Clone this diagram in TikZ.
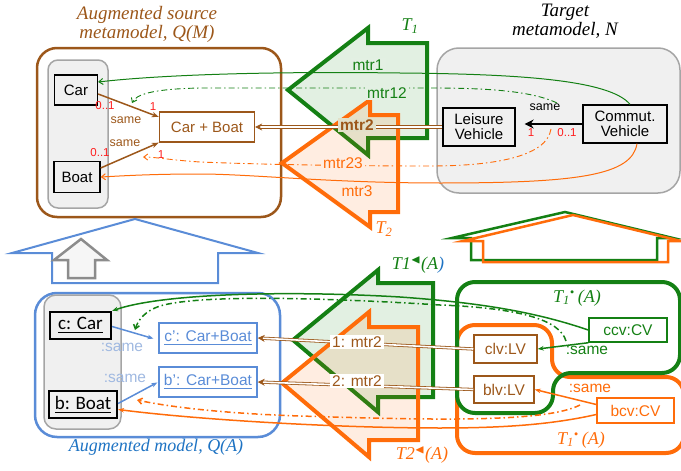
\documentclass[tikz,border=0pt]{standalone}
\usepackage{amssymb}
\usepackage{fontspec}
\setmainfont{Liberation Serif}
\setsansfont{Liberation Sans}
\newfontfamily\calib{Carlito}
\usetikzlibrary{arrows.meta}
\definecolor{mbrown}{RGB}{156,87,26}
\definecolor{mgreen}{RGB}{20,128,20}
\definecolor{morange}{RGB}{255,108,10}
\definecolor{mblue}{RGB}{90,140,215}
\definecolor{tblue}{RGB}{30,115,195}
\definecolor{lblue}{RGB}{160,185,225}
\definecolor{mred}{RGB}{255,30,30}
\definecolor{mgrey}{RGB}{165,165,165}
\definecolor{lgrey}{RGB}{240,240,240}
\definecolor{mtan}{RGB}{226,224,201}
\begin{document}
\begin{tikzpicture}[x=1pt, y=-1pt,
    cls/.style = {draw, line width=1.3, font=\sffamily\fontsize{15}{17}\selectfont, inner sep=1, align=center},
    obj/.style = {draw, line width=1.5, font=\sffamily\fontsize{15.5}{17}\selectfont, inner sep=1},
    ttl/.style = {font=\itshape\fontsize{19}{19}\selectfont, align=center},
    tlbl/.style = {font=\itshape\fontsize{18}{20}\selectfont},
    mult/.style = {text=mred, font=\sffamily\fontsize{11.5}{12}\selectfont, inner sep=0},
    lbl/.style = {font=\sffamily\fontsize{15.5}{17}\selectfont, inner sep=2},
    small/.style = {font=\sffamily\fontsize{12.5}{14}\selectfont, inner sep=0},
    big/.style = {line width=4, line join=miter, fill opacity=0.12},
    dd/.style = {dash pattern=on 6pt off 3pt on 1.5pt off 3pt},
    thin/.style = {-{Straight Barb[length=4pt,width=6pt]}},
    dbl/.style = {draw=mbrown, double=white, double distance=1.6, line width=0.8, -{Stealth[length=7pt,width=7pt]}}]
    \useasboundingbox (0,0) rectangle (681,471);

    % source and target metamodels
    \draw[mbrown, line width=2.5, rounded corners=20] (37,48) rectangle (281,217);
    \draw[mgrey, fill=lgrey, line width=1.5, rounded corners=10] (48,60) rectangle (108,208);
    \draw[mgrey, fill=lgrey, line width=1.5, rounded corners=22] (437,48) rectangle (680,193);
    \node[ttl, text=mbrown] (srcttl) at (147,24) {Augmented source\\metamodel, Q(M)};
    \node[ttl] (tgtttl) at (565,21) {Target\\metamodel, N};

    \draw[big, draw=mgreen, fill=mgreen] (288,90) -- (368,28) -- (368,43) -- (427,43) -- (427,138) -- (368,138) -- (368,155) -- cycle;
    \draw[big, draw=morange, fill=morange] (282,163) -- (370,100) -- (370,115) -- (398,115) -- (398,212) -- (370,212) -- (370,227) -- cycle;
    \node[tlbl, text=mgreen] (t1) at (410,26) {T\textsubscript{1}};
    \node[tlbl, text=morange] (t2) at (384,229) {T\textsubscript{2}};

    \node[cls, minimum width=43, minimum height=30] (car) at (76,90) {Car};
    \node[cls, minimum width=46, minimum height=31] (boat) at (77,177) {Boat};
    \node[cls, draw=mbrown, text=mbrown, minimum width=95, minimum height=30] (cb) at (207,127) {Car + Boat};
    \node[cls, minimum width=72, minimum height=38] (lv) at (479,127) {Leisure\\[-2pt]Vehicle};
    \node[cls, minimum width=84, minimum height=38] (cv) at (625,124) {Commut.\\[-2pt]Vehicle};

    \draw[mbrown, line width=1.5, -{Stealth[length=7pt]}] ([yshift=-4]car.east) -- ([yshift=10]cb.west);
    \draw[mbrown, line width=1.5, -{Stealth[length=7pt]}] ([yshift=9]boat.east) -- (cb.south west);
    \node[small, text=mbrown] (same1) at (126,120) {same};
    \node[small, text=mbrown] (same2) at (125,143) {same};
    \node[mult] (m1) at (105,106) {0..1};
    \node[mult] (m2) at (153,107) {1};
    \node[mult] (m3) at (100,153) {0..1};
    \node[mult] (m4) at (161,155) {1};

    \draw[line width=2.5, -{Stealth[length=9pt,width=9pt]}, shorten >=9] (cv.west) -- (cv.west -| lv.east);
    \node[small] (same0) at (545,107) {same};
    \node[mult] (m5) at (531,133) {1};
    \node[mult] (m6) at (567,133) {0..1};

    \coordinate (sameup) at (557,103);
    \coordinate (samedn) at (551,129);
    \coordinate (srcsame1) at (132,103);
    \coordinate (srcsame2) at (143,157);

    \draw[mgreen, line width=1, thin] ([xshift=5]cv.north) .. controls (610,80) and (520,74) .. (400,73) .. controls (250,71) and (150,76) .. ([yshift=8]car.east);
    \draw[mgreen, line width=0.9, dd, thin] (sameup) .. controls (530,90) and (480,88) .. (430,88) -- (200,88) .. controls (150,89) and (136,95) .. (srcsame1);
    \draw[morange, line width=1, thin] ([xshift=12]cv.south) .. controls (632,175) and (580,183) .. (440,183) .. controls (330,183) and (250,174) .. (200,174) .. controls (150,174) and (120,176) .. (boat.east);
    \draw[morange, line width=0.9, dd, thin] (samedn) .. controls (547,155) and (500,166) .. (430,166) .. controls (330,166) and (250,164) .. (200,162) .. controls (170,160) and (155,157) .. (srcsame2);
    \draw[dbl] (lv.west) -- (cb.east);

    \node[lbl, text=mgreen, fill=mgreen!12] (mtr1) at (368,65) {mtr1};
    \node[lbl, text=mgreen, fill=mgreen!12] (mtr12) at (387,93) {mtr12};
    \node[lbl, text=mbrown, fill=mtan, font=\sffamily\bfseries\fontsize{15.5}{17}\selectfont] (mtr2) at (357,125) {mtr2};
    \node[lbl, text=morange, fill=morange!12] (mtr23) at (343,163) {mtr23};
    \node[lbl, text=morange, inner sep=0] (mtr3) at (357,191) {mtr3};

    % lifting arrows
    \draw[mblue, line width=2, line join=miter] (12,253) -- (135,219) -- (258,253) -- (218,253) -- (218,283) -- (52,283) -- (52,253) -- cycle;
    \draw[mgrey!85!black, fill=lgrey!60!white, line width=2.5, line join=miter] (54,260) -- (81,239) -- (107,260) -- (95,260) -- (95,278) -- (68,278) -- (68,260) -- cycle;
    \draw[mgreen, line width=2.5, line join=miter] (452,238) -- (565,212) -- (673,238) -- (657,238) -- (657,260) -- (471,260) -- (471,238) -- cycle;
    \draw[morange, line width=2.5, line join=miter] (463,241) -- (573,215) -- (681,241) -- (668,241) -- (668,262) -- (483,262) -- (483,241) -- cycle;

    % models
    \draw[mblue, line width=2.5, rounded corners=22] (35,293) rectangle (280,437);
    \draw[mgrey, fill=lgrey, line width=1.5, rounded corners=12] (44,295) rectangle (121,429);
    \node[font=\itshape\fontsize{18}{20}\selectfont, text=tblue] (qattl) at (156,447) {Augmented model, Q(A)};

    \draw[big, draw=mgreen, fill=mgreen] (293,340) -- (378,270) -- (378,283) -- (433,283) -- (433,397) -- (378,397) -- (378,412) -- cycle;
    \draw[big, draw=morange, fill=morange] (282,383) -- (369,312) -- (369,327) -- (418,327) -- (418,440) -- (369,440) -- (369,457) -- cycle;
    \node[tlbl, text=mgreen] (t1a) at (418,265) {T1$^{\blacktriangleleft}$(A\textcolor{tblue}{)}};
    \node[tlbl, text=morange] (t2a) at (422,455) {T2$^{\blacktriangleleft}$(A)};

    \draw[morange, line width=4, rounded corners=18] (457,400) |- (552,325) |- (684,377) |- (457,453) -- cycle;
    \draw[mgreen, line width=4, rounded corners=18] (500,282) -| (680,373) -| (553,413) -| (457,282) -- cycle;
    \node[tlbl, text=mgreen] (t1g) at (577,298) {T\textsubscript{1}\textsuperscript{\textbullet}\,(A)};
    \node[tlbl, text=morange] (t1o) at (581,440) {T\textsubscript{1}\textsuperscript{\textbullet}\,(A)};

    \node[obj, line width=2.2, font=\calib\fontsize{19}{20}\selectfont, minimum width=61, minimum height=27] (c) at (80.5,325.5) {\underline{c: Car}};
    \node[obj, line width=2.2, font=\calib\fontsize{19}{20}\selectfont, minimum width=68, minimum height=27] (b) at (83,404.5) {\underline{b: Boat}};
    \node[obj, draw=mblue, text=mblue, minimum width=98, minimum height=30] (cp) at (208,338) {\underline{c’: Car+Boat}};
    \node[obj, draw=mblue, text=mblue, minimum width=98, minimum height=30] (bp) at (208,382) {\underline{b’: Car+Boat}};
    \node[obj, draw=mgreen, text=mgreen, minimum width=78, minimum height=24] (ccv) at (628,330) {ccv:CV};
    \node[obj, draw=mbrown, text=mbrown, minimum width=63, minimum height=28] (clv) at (505.5,349) {clv:LV};
    \node[obj, draw=mbrown, text=mbrown, minimum width=60, minimum height=27] (blv) at (504,389.5) {blv:LV};
    \node[obj, draw=morange, text=morange, minimum width=77, minimum height=25] (bcv) at (635.5,410.5) {bcv:CV};

    \draw[mblue, line width=1.5, -{Stealth[length=6pt]}, shorten >=5] ([yshift=-1]c.east) -- ([yshift=-2]cp.west);
    \draw[mblue, line width=1.5, -{Stealth[length=6pt]}, shorten >=1] ([yshift=1]b.east) -- (bp.west);
    \node[lbl, text=lblue] (csame) at (122,347) {:same};
    \node[lbl, text=lblue] (bsame) at (125,378) {:same};
    \draw[mgreen, line width=1.5, -{Stealth[length=6pt]}] (ccv.south west) -- (clv.east);
    \draw[morange, line width=1.5, -{Stealth[length=6pt]}] ([yshift=6]bcv.west) -- (blv.east);
    \node[lbl, text=mgreen] (ccvsame) at (587,350) {:same};
    \node[lbl, text=morange] (bcvsame) at (590,388) {:same};

    \coordinate (ccvpt) at (566,341);
    \coordinate (bcvpt) at (580,405);
    \coordinate (cpt) at (135,330);
    \coordinate (bpt) at (137,400);

    \draw[mgreen, line width=1.5, -{Stealth[length=6pt]}] (ccv.west) .. controls (530,310) and (470,302) .. (400,297) .. controls (280,290) and (160,294) .. (c.north east);
    \draw[mgreen, line width=1.5, dd, -{Straight Barb[length=4pt,width=6pt]}] (ccvpt) .. controls (560,320) and (520,308) .. (440,305) .. controls (330,298) and (200,294) .. (160,306) .. controls (145,311) and (138,320) .. (cpt);
    \draw[morange, line width=1.5, -{Stealth[length=6pt]}] ([yshift=-4]bcv.west) .. controls (550,425) and (500,428) .. (440,428) .. controls (340,428) and (200,420) .. ([yshift=-5]b.east);
    \draw[morange, line width=1.5, dd, -{Straight Barb[length=4pt,width=6pt]}] (bcvpt) .. controls (545,423) and (430,420) .. (300,416) .. controls (210,413) and (160,405) .. (bpt);
    \draw[dbl] (clv.west) -- (cp.east);
    \draw[dbl] (blv.west) -- (bp.east);
    \node[lbl, text=mbrown, fill=white] (amtr1) at (357,342) {1: mtr2};
    \node[lbl, text=mbrown, fill=white] (amtr2) at (357,381) {2: mtr2};
\end{tikzpicture}
\end{document}
